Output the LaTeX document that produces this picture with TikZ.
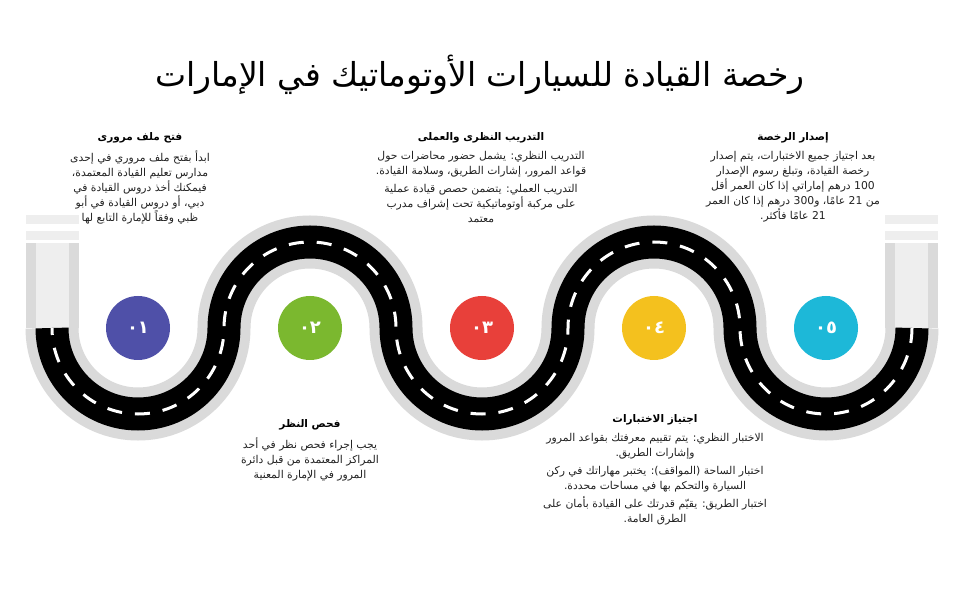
\documentclass[tikz,border=0pt]{standalone}
\usepackage{fontspec}
\setmainfont{DejaVu Sans}
\newfontfamily\arabicfont[Script=Arabic]{DejaVu Sans}
\TeXXeTstate=1
\newcommand{\RL}[1]{\beginR #1\endR}
\definecolor{roadgray}{HTML}{DADADA}
\definecolor{lightfill}{HTML}{EEEEEE}
\definecolor{txt}{HTML}{222222}
\definecolor{cA}{HTML}{4F50A8}
\definecolor{cB}{HTML}{7BB82F}
\definecolor{cC}{HTML}{E8403A}
\definecolor{cD}{HTML}{F4C11E}
\definecolor{cE}{HTML}{1DB8D8}
\tikzset{
  head/.style={font=\arabicfont\fontsize{10.5}{13}\selectfont\bfseries, text=black, align=center, inner sep=0},
  body/.style={font=\arabicfont\fontsize{10.8}{15}\selectfont, text=txt, align=center, inner sep=0, anchor=north},
  num/.style={circle, minimum size=64pt, inner sep=0, text=white, font=\arabicfont\fontsize{18}{20}\selectfont\bfseries},
}
\begin{document}
\begin{tikzpicture}[x=1pt,y=1pt]
\useasboundingbox (0,0) rectangle (960,600);
\fill[white] (0,0) rectangle (960,600);
% title
\node[font=\arabicfont\fontsize{33}{38}\selectfont, inner sep=0] (title) at (480,525) {\RL{رخصة القيادة للسيارات الأوتوماتيك في الإمارات}};
% end pieces
\foreach \xa in {26,885}{
  \fill[roadgray] (\xa,272) rectangle (\xa+53,357);
  \fill[lightfill] (\xa+10,272) rectangle (\xa+43,357);
  \fill[lightfill] (\xa,360) rectangle (\xa+53,369);
  \fill[lightfill] (\xa,376) rectangle (\xa+53,385);
}
% road
\def\roadpath{(52,272) arc(180:360:86) arc(180:0:86) arc(180:360:86) arc(180:0:86) arc(180:360:86)}
\draw[roadgray, line width=53pt] \roadpath;
\draw[black, line width=33pt] \roadpath;
\draw[white, line width=3pt, dash pattern=on 15pt off 13pt, dash phase=8pt] \roadpath;
% circles
\node[num, fill=cA] (c1) at (138,272) {٠١};
\node[num, fill=cB] (c2) at (310,272) {٠٢};
\node[num, fill=cC] (c3) at (482,272) {٠٣};
\node[num, fill=cD] (c4) at (654,272) {٠٤};
\node[num, fill=cE] (c5) at (826,272) {٠٥};
% step 1
\node[head] (h1) at (140,462) {\RL{فتح ملف مرورى}};
\node[body] (b1) at (140,449) {\RL{ابدأ بفتح ملف مروري في إحدى}\\\RL{مدارس تعليم القيادة المعتمدة،}\\\RL{فيمكنك أخذ دروس القيادة في}\\\RL{دبي، أو دروس القيادة في أبو}\\\RL{ظبي وفقاً للإمارة التابع لها}};
% step 3
\node[head] (h3) at (481,462) {\RL{التدريب النظرى والعملى}};
\node[body] (b3) at (481,449) {\RL{التدريب النظري: يشمل حضور محاضرات حول}\\\RL{قواعد المرور، إشارات الطريق، وسلامة القيادة.}\\[3pt]\RL{التدريب العملي: يتضمن حصص قيادة عملية}\\\RL{على مركبة أوتوماتيكية تحت إشراف مدرب}\\\RL{معتمد}};
% step 5
\node[head] (h5) at (793,462) {\RL{إصدار الرخصة}};
\node[body] (b5) at (793,449) {\RL{بعد اجتياز جميع الاختبارات، يتم إصدار}\\\RL{رخصة القيادة، وتبلغ رسوم الإصدار}\\\RL{100 درهم إماراتي إذا كان العمر أقل}\\\RL{من 21 عامًا، و300 درهم إذا كان العمر}\\\RL{21 عامًا فأكثر.}};
% step 2
\node[head] (h2) at (310,175) {\RL{فحص النظر}};
\node[body] (b2) at (310,162) {\RL{يجب إجراء فحص نظر في أحد}\\\RL{المراكز المعتمدة من قبل دائرة}\\\RL{المرور في الإمارة المعنية}};
% step 4
\node[head] (h4) at (655,180) {\RL{اجتياز الاختبارات}};
\node[body] (b4) at (655,167) {\RL{الاختبار النظري: يتم تقييم معرفتك بقواعد المرور}\\\RL{وإشارات الطريق.}\\[3pt]\RL{اختبار الساحة (المواقف): يختبر مهاراتك في ركن}\\\RL{السيارة والتحكم بها في مساحات محددة.}\\[3pt]\RL{اختبار الطريق: يقيّم قدرتك على القيادة بأمان على}\\\RL{الطرق العامة.}};
\end{tikzpicture}
\end{document}
